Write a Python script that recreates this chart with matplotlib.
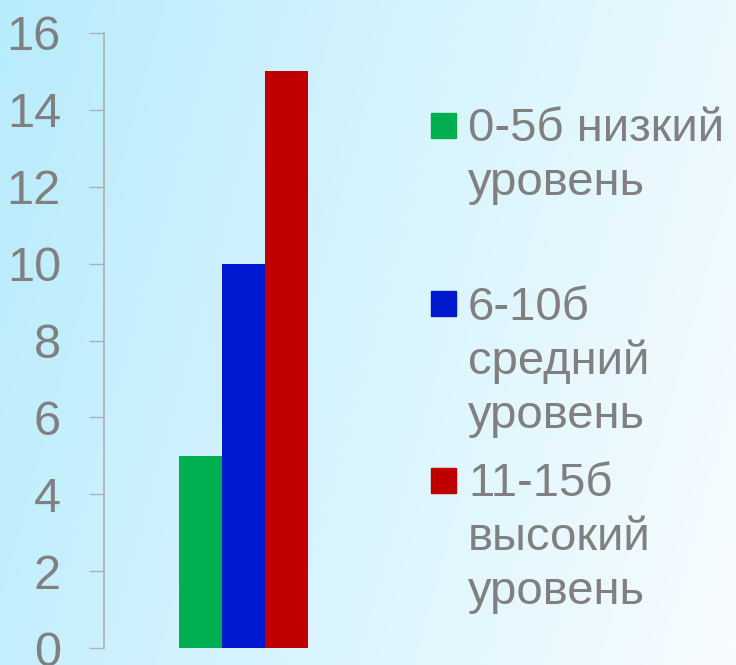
import numpy as np
import matplotlib
matplotlib.use("Agg")
import matplotlib.pyplot as plt
from matplotlib.patches import Rectangle

# data
labels = ["0-5б низкий\nуровень", "6-10б\nсредний\nуровень", "11-15б\nвысокий\nуровень"]
values = [5, 10, 15]
colors = ["#00b050", "#0019cf", "#c00000"]
yticks = [0, 2, 4, 6, 8, 10, 12, 14, 16]

W, H = 736, 665
fig = plt.figure(figsize=(W / 100, H / 100), dpi=100)

# background gradient (cyan on the left -> near white on the right)
bg = fig.add_axes([0, 0, 1, 1], zorder=0)
xx, yy = np.meshgrid(np.linspace(0, 1, 300), np.linspace(0, 1, 300))
t = np.clip(0.8 * xx + 0.2 * yy, 0, 1)
c0 = np.array([0.72, 0.925, 0.99])
c1 = np.array([0.97, 0.99, 1.0])
img = c0[None, None, :] * (1 - t[..., None]) + c1[None, None, :] * t[..., None]
bg.imshow(img, aspect="auto", origin="upper", extent=[0, 1, 0, 1])
bg.axis("off")

ax = fig.add_axes([104 / W, 17 / H, (382 - 104) / W, (648 - 33) / H], zorder=1)
ax.patch.set_alpha(0)
x = np.arange(len(values)) - 1
ax.bar(x, values, width=1.0, color=colors, linewidth=0)
ax.set_xlim(-3.24, 3.22)
ax.set_ylim(0, 16)
ax.set_yticks(yticks)
ax.set_xticks([])
for s in ["top", "right", "bottom"]:
    ax.spines[s].set_visible(False)
ax.spines["left"].set_color("#b0b0b0")
ax.spines["left"].set_linewidth(1.2)
ax.tick_params(axis="y", length=11, width=1, color="#b0b0b0",
               labelsize=35, labelcolor="#808080", pad=20)
for lab in ax.get_yticklabels():
    lab.set_fontfamily("Liberation Sans")

# legend drawn by hand, entries evenly spaced
sq_y = [125, 304, 480]
base_y = [141, 320, 496]
pitch = 54
for i in range(len(labels)):
    fig.patches.append(Rectangle((431 / W, 1 - (sq_y[i] + 12.5) / H), 25 / W, 25 / H,
                                 transform=fig.transFigure, color=colors[i], zorder=3))
    for k, line in enumerate(labels[i].split("\n")):
        fig.text(468 / W, 1 - (base_y[i] + k * pitch) / H, line, fontsize=34,
                 color="#808080", family="Liberation Sans", va="baseline",
                 ha="left", zorder=3)

fig.savefig("out.png", dpi=100)
